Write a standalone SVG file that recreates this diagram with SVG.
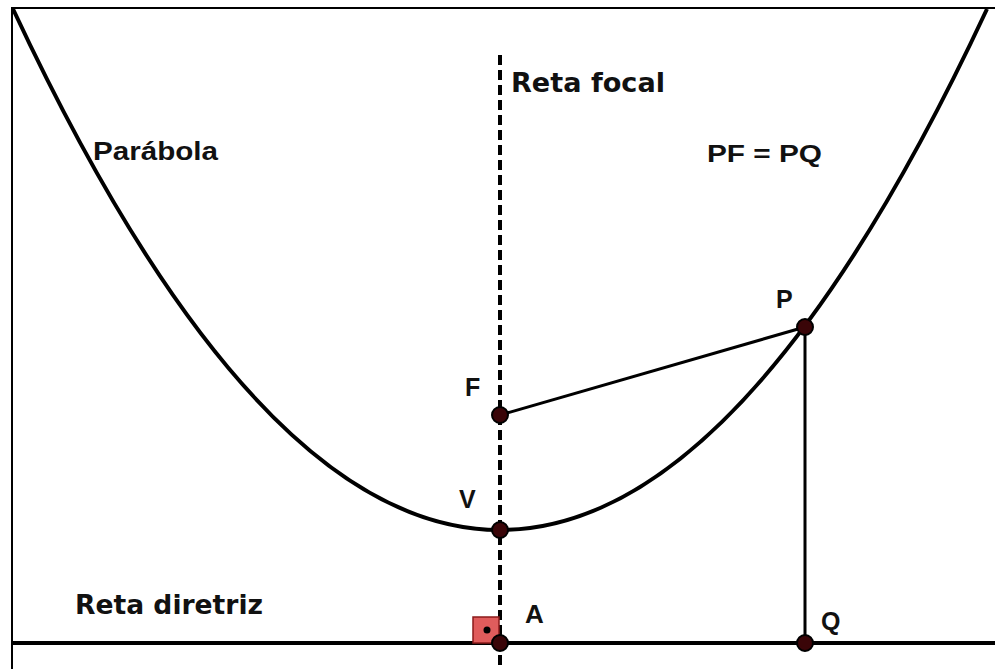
<svg xmlns="http://www.w3.org/2000/svg" width="995" height="669" viewBox="0 0 995 669">
<style>
.lbl{font-family:"Liberation Sans",Arial,sans-serif;font-weight:bold;fill:#111}
.big{font-family:"DejaVu Sans","Liberation Sans",sans-serif;font-weight:bold;fill:#111}
.pt{fill:#3a0508;stroke:#000;stroke-width:2}
</style>
<rect x="0" y="0" width="995" height="669" fill="#fff"/>
<path d="M12 669 V8 H995" fill="none" stroke="#000" stroke-width="2"/>
<g id="connectors" fill="none" stroke="#000">
<path id="parabola" d="M13 9 Q500 1051 987 9" stroke-width="4"/>
<line id="directrix" x1="12" y1="643" x2="995" y2="643" stroke-width="4"/>
<line id="focal" x1="500" y1="55" x2="500" y2="669" stroke-width="4" stroke-dasharray="10 5"/>
<line id="FP" x1="500" y1="415" x2="805" y2="327" stroke-width="3"/>
<line id="PQ" x1="805" y1="327" x2="805" y2="643" stroke-width="3"/>
</g>
<g id="rightangle">
<rect x="473" y="617" width="26" height="26" fill="#e05c5c" stroke="#8b1a1a" stroke-width="1.5"/>
<circle cx="487" cy="630" r="3.5" fill="#000"/>
</g>
<g id="F"><circle class="pt" cx="500" cy="415" r="8"/><text class="lbl" x="465" y="396" font-size="25">F</text></g>
<g id="V"><circle class="pt" cx="500" cy="530" r="8"/><text class="lbl" x="459" y="508" font-size="25">V</text></g>
<g id="P"><circle class="pt" cx="805" cy="327" r="8"/><text class="lbl" x="776" y="308" font-size="25">P</text></g>
<g id="A"><circle class="pt" cx="500" cy="643" r="8"/><text class="lbl" x="525" y="623" font-size="26">A</text></g>
<g id="Q"><circle class="pt" cx="805" cy="643" r="8"/><text class="lbl" x="821" y="630" font-size="25">Q</text></g>
<text class="big" x="511" y="92" font-size="27" textLength="154" lengthAdjust="spacingAndGlyphs">Reta focal</text>
<text class="lbl" x="93" y="160" font-size="25" textLength="125" lengthAdjust="spacingAndGlyphs">Parábola</text>
<text class="lbl" x="707" y="162" font-size="23" textLength="115" lengthAdjust="spacingAndGlyphs">PF = PQ</text>
<text class="big" x="75" y="614" font-size="27" textLength="188" lengthAdjust="spacingAndGlyphs">Reta diretriz</text>
</svg>
